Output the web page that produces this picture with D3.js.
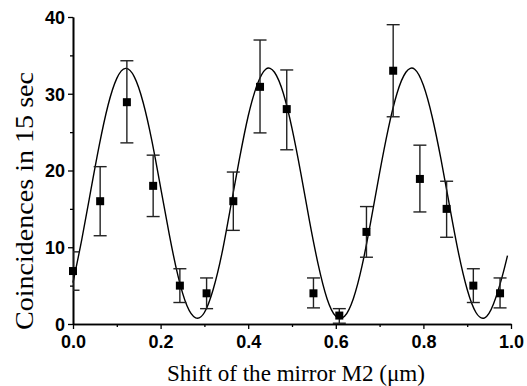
<!DOCTYPE html>
<html>
<head>
<meta charset="utf-8">
<script src="https://cdn.jsdelivr.net/npm/d3@7/dist/d3.min.js"></script>
<style>
  html, body { margin: 0; padding: 0; background: #fff; }
  svg { display: block; }
</style>
</head>
<body>
<svg id="chart" width="527" height="386"></svg>
<script>
// ---- data ----
const shift    = [0.000, 0.062, 0.123, 0.183, 0.244, 0.305, 0.366, 0.427, 0.488, 0.549, 0.608, 0.670, 0.731, 0.792, 0.853, 0.914, 0.975];
const counts   = [6.9, 16.0, 28.9, 18.0, 5.0, 4.0, 16.0, 30.9, 28.0, 4.0, 1.1, 12.0, 33.0, 18.9, 15.0, 5.0, 4.0];
const errLow   = [4.4, 11.5, 23.6, 14.0, 2.8, 2.0, 12.2, 24.9, 22.7, 2.1, 0.1, 8.7, 27.0, 14.6, 11.3, 2.8, 2.1];
const errHigh  = [9.4, 20.5, 34.3, 22.0, 7.2, 6.0, 19.8, 37.0, 33.1, 6.0, 2.0, 15.3, 39.0, 23.3, 18.6, 7.2, 6.0];

// fitted curve
const fitX = [0.00,0.02,0.04,0.06,0.08,0.10,0.12,0.14,0.16,0.18,0.20,0.22,0.24,0.26,0.28,0.30,0.32,0.34,0.36,0.38,0.40,0.42,0.44,0.46,0.48,0.50,0.52,0.54,0.56,0.58,0.60,0.62,0.64,0.66,0.68,0.70,0.72,0.74,0.76,0.78,0.80,0.82,0.84,0.86,0.88,0.90,0.92,0.94,0.96,0.98,0.992];
const fitY = [5.4,11.0,17.2,23.3,28.5,32.0,33.3,32.2,28.9,23.9,17.8,11.6,6.2,2.4,0.8,1.5,4.5,9.2,15.3,21.5,27.1,31.1,33.2,32.8,30.1,25.5,19.7,13.4,7.7,3.3,1.0,1.0,3.3,7.6,13.4,19.7,25.5,30.1,32.8,33.2,31.1,27.0,21.5,15.3,9.3,4.5,1.5,0.8,2.6,6.2,8.9];

const xTicks = [0.0, 0.2, 0.4, 0.6, 0.8, 1.0];
const xMinor = [0.1, 0.3, 0.5, 0.7, 0.9];
const yTicks = [0, 10, 20, 30, 40];
const yMinor = [5, 15, 25, 35];

const xTitle = "Shift of the mirror M2 (\u03BCm)";
const yTitle = "Coincidences in 15 sec";

// ---- layout ----
const L = 73, T = 17, W = 438, H = 307;
const svg = d3.select("#chart");
const x = d3.scaleLinear().domain([0, 1]).range([L, L + W]);
const y = d3.scaleLinear().domain([0, 40]).range([T + H, T]);

svg.append("defs").append("clipPath").attr("id", "plotclip")
  .append("rect").attr("x", L).attr("y", 0).attr("width", W + 10).attr("height", T + H);

// axes
const tickFont = "bold 18px 'Liberation Sans', Arial, sans-serif";

const xAxis = svg.append("g").attr("transform", `translate(0,${T + H})`)
  .call(d3.axisBottom(x).tickValues(xTicks).tickFormat(d3.format(".1f")).tickSizeInner(5).tickSizeOuter(0).tickPadding(6));
const xAxisMinor = svg.append("g").attr("transform", `translate(0,${T + H})`)
  .call(d3.axisBottom(x).tickValues(xMinor).tickFormat("").tickSizeInner(3).tickSizeOuter(0));
const yAxis = svg.append("g").attr("transform", `translate(${L},0)`)
  .call(d3.axisLeft(y).tickValues(yTicks).tickFormat(d3.format("d")).tickSizeInner(5).tickSizeOuter(0).tickPadding(3));
const yAxisMinor = svg.append("g").attr("transform", `translate(${L},0)`)
  .call(d3.axisLeft(y).tickValues(yMinor).tickFormat("").tickSizeInner(3).tickSizeOuter(0));

[xAxis, xAxisMinor, yAxis, yAxisMinor].forEach(g => {
  g.selectAll("path.domain").attr("stroke", "#000").attr("stroke-width", 1.6);
  g.selectAll(".tick line").attr("stroke", "#000").attr("stroke-width", 1.3);
  g.selectAll(".tick text").style("font", tickFont).attr("fill", "#000");
});
yAxis.selectAll(".tick text").attr("dy", "0.35em");

// fitted curve
svg.append("path")
  .datum(fitX.map((d, i) => [d, fitY[i]]))
  .attr("fill", "none").attr("stroke", "#000").attr("stroke-width", 1.4)
  .attr("d", d3.line().x(d => x(d[0])).y(d => y(d[1])).curve(d3.curveNatural));

// error bars
const pts = shift.map((d, i) => ({ x: d, y: counts[i], lo: errLow[i], hi: errHigh[i] }));
const eb = svg.append("g").attr("clip-path", "url(#plotclip)").attr("stroke", "#222").attr("stroke-width", 1.4);
const cap = 6.5;
eb.selectAll("line.v").data(pts).join("line").attr("class", "v")
  .attr("x1", d => x(d.x)).attr("x2", d => x(d.x)).attr("y1", d => y(d.lo)).attr("y2", d => y(d.hi));
eb.selectAll("line.top").data(pts).join("line").attr("class", "top")
  .attr("x1", d => x(d.x) - cap).attr("x2", d => x(d.x) + cap).attr("y1", d => y(d.hi)).attr("y2", d => y(d.hi));
eb.selectAll("line.bot").data(pts).join("line").attr("class", "bot")
  .attr("x1", d => x(d.x) - cap).attr("x2", d => x(d.x) + cap).attr("y1", d => y(d.lo)).attr("y2", d => y(d.lo));

// square markers
const ms = 8;
svg.append("g").selectAll("rect").data(pts).join("rect")
  .attr("x", d => x(d.x) - ms / 2).attr("y", d => y(d.y) - ms / 2)
  .attr("width", ms).attr("height", ms).attr("fill", "#000");

// titles
svg.append("text")
  .attr("x", 296).attr("y", 381)
  .attr("text-anchor", "middle")
  .attr("textLength", 258).attr("lengthAdjust", "spacingAndGlyphs")
  .style("font", "23px 'Liberation Serif', 'Times New Roman', serif")
  .attr("fill", "#000")
  .text(xTitle);

svg.append("text")
  .attr("transform", "translate(33,201) rotate(-90)")
  .attr("text-anchor", "middle")
  .attr("textLength", 258).attr("lengthAdjust", "spacingAndGlyphs")
  .style("font", "26px 'Liberation Serif', 'Times New Roman', serif")
  .attr("fill", "#000")
  .text(yTitle);
</script>
</body>
</html>
